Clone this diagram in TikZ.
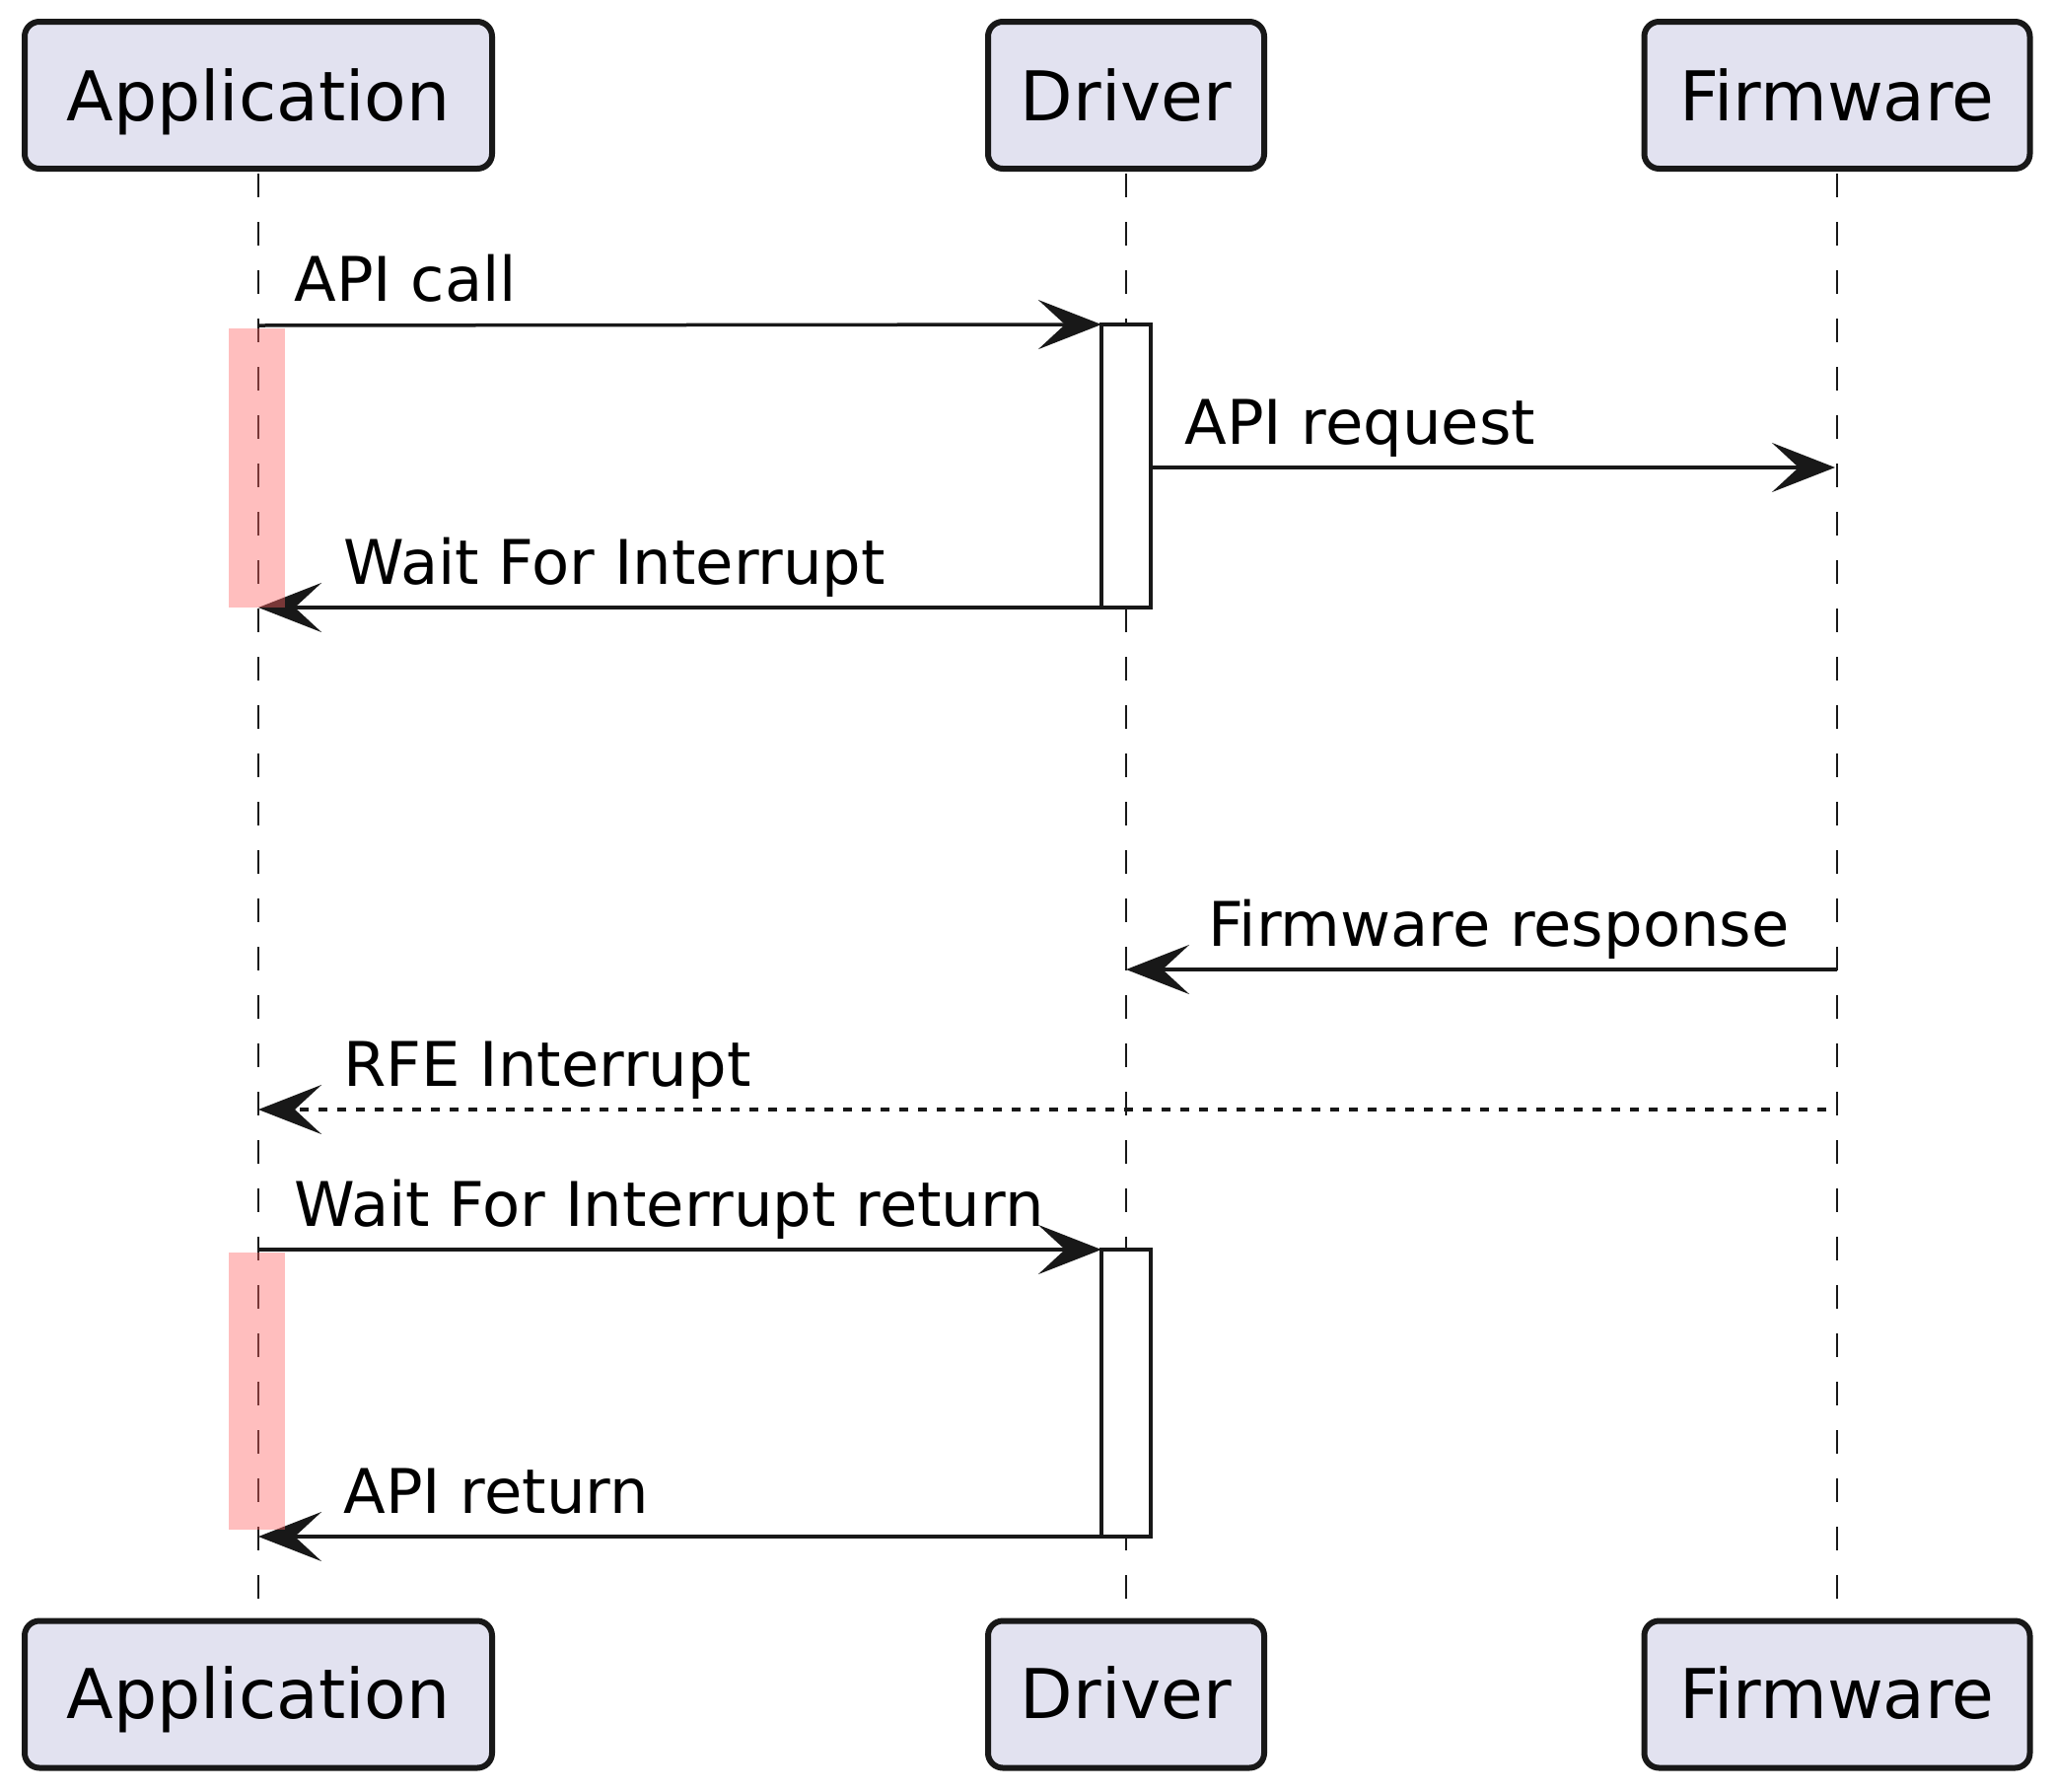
\documentclass[tikz,border=0pt]{standalone}
\usepackage{fontspec}
\setmainfont{DejaVu Sans}
\usetikzlibrary{arrows.meta}
\definecolor{partfill}{RGB}{226,226,240}
\definecolor{ink}{RGB}{24,24,24}
\begin{document}
\begin{tikzpicture}[x=0.5pt,y=-0.5pt,
  part/.style={draw=ink, line width=3pt, fill=partfill, rounded corners=7.5pt,
    minimum height=74.5pt, inner sep=0pt, outer sep=0pt},
  ptext/.style={font=\fontsize{34.8pt}{40pt}\selectfont, anchor=base, inner sep=0pt, text=black},
  lifeline/.style={draw=ink, line width=1pt, dash pattern=on 12pt off 12.5pt},
  actbox/.style={draw=ink, line width=1.75pt, fill=white, minimum width=25pt, inner sep=0pt, outer sep=0pt},
  msg/.style={draw=ink, line width=1.75pt, -{Stealth[length=32pt,width=25pt,inset=13.5pt]}},
  reply/.style={msg, dash pattern=on 4.5pt off 5pt},
  mlabel/.style={font=\fontsize{31.2pt}{36pt}\selectfont, anchor=base west, inner sep=0pt, text=black},
  activ/.style={fill={rgb,255:red,255;green,100;blue,100}, fill opacity=0.42, draw=none,
    minimum width=28.5pt, inner sep=0pt, outer sep=0pt}
]
\useasboundingbox (0,0) rectangle (2083,1816);

% participants (top)
\node[part, minimum width=237pt] (appT) at (262,96.5) {};
\node[part, minimum width=140pt] (drvT) at (1142,96.5) {};
\node[part, minimum width=195.5pt] (fwT) at (1863,96.5) {};
\node[ptext] (appTt) at (262,122) {Application};
\node[ptext] (drvTt) at (1142,122) {Driver};
\node[ptext] (fwTt) at (1863,122) {Firmware};

% participants (bottom)
\node[part, minimum width=237pt] (appB) at (262,1718) {};
\node[part, minimum width=140pt] (drvB) at (1142,1718) {};
\node[part, minimum width=195.5pt] (fwB) at (1863,1718) {};
\node[ptext] (appBt) at (262,1742) {Application};
\node[ptext] (drvBt) at (1142,1742) {Driver};
\node[ptext] (fwBt) at (1863,1742) {Firmware};

% lifelines
\draw[lifeline] ([yshift=-2.5pt]appT.south) -- (appB.north);
\draw[lifeline] ([yshift=-2.5pt]drvT.south) -- (drvB.north);
\draw[lifeline] ([yshift=-2.5pt]fwT.south) -- (fwB.north);

% activation boxes on Driver
\node[actbox, minimum height=143.5pt] (act1) at (1142,472.5) {};
\node[actbox, minimum height=145.5pt] (act2) at (1142,1412.5) {};

% message end points
\coordinate (a1) at (262,330);
\coordinate (d2) at (act1.east |- 0,474);
\coordinate (f2) at (1861,474);
\coordinate (a3) at (262,616);
\coordinate (f4) at (1863,983);
\coordinate (d4) at (1142,983);
\coordinate (f5) at (1852,1125);
\coordinate (a5) at (262,1125);
\coordinate (a6) at (262,1267);
\coordinate (a7) at (262,1558);

% messages
\draw[msg] (a1) -- (act1.north west);
\draw[msg] (d2) -- (f2);
\draw[msg] (act1.south west) -- (a3);
\draw[msg] (f4) -- (d4);
\draw[reply] (f5) -- (a5);
\draw[msg] (a6) -- (act2.north west);
\draw[msg] (act2.south west) -- (a7);

% labels
\node[mlabel] (l1) at (298,305) {API call};
\node[mlabel] (l2) at (1201,450) {API request};
\node[mlabel] (l3) at (348,592) {Wait For Interrupt};
\node[mlabel] (l4) at (1225,959) {Firmware response};
\node[mlabel] (l5) at (348,1101) {RFE Interrupt};
\node[mlabel] (l6) at (298,1243) {Wait For Interrupt return};
\node[mlabel] (l7) at (348,1534) {API return};

% application highlight bars
\node[activ, minimum height=141.5pt] (hl1) at (260.5,474.5) {};
\node[activ, minimum height=140.5pt] (hl2) at (260.5,1410.5) {};
\end{tikzpicture}
\end{document}
